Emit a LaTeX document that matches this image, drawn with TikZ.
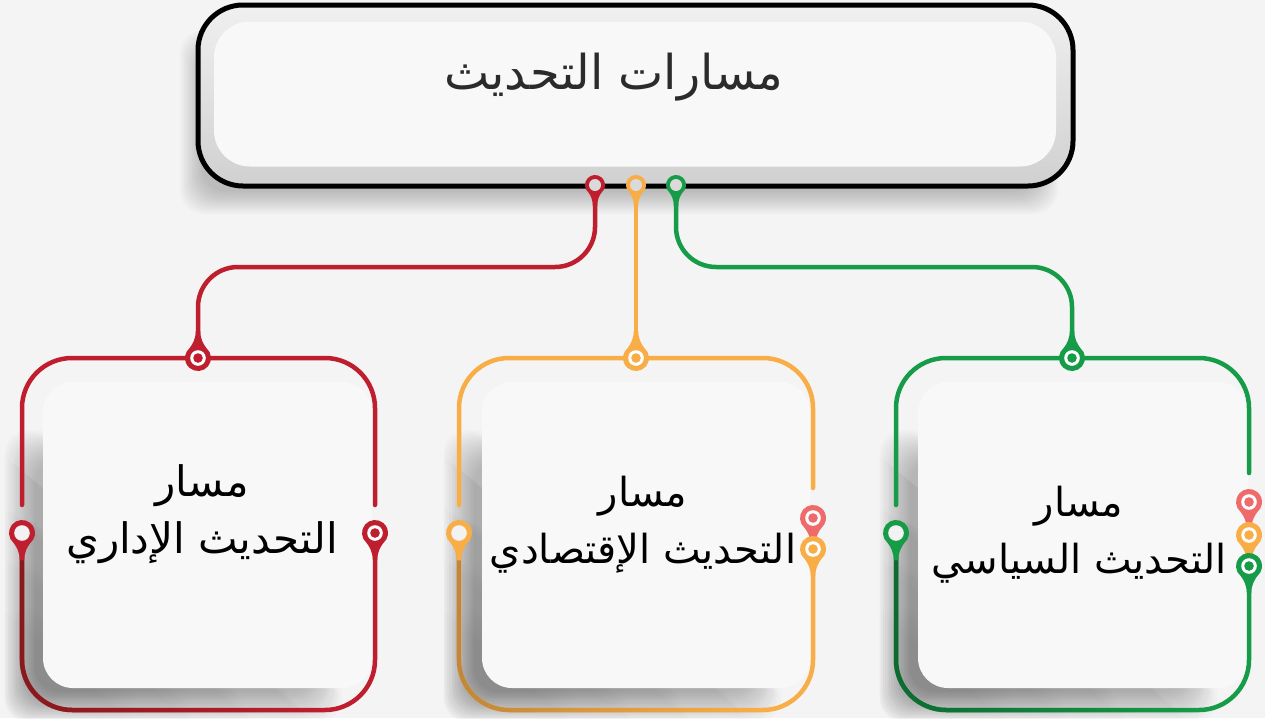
\documentclass[tikz,border=0pt]{standalone}
\usepackage{fontspec}
\usetikzlibrary{fadings}
\TeXXeTstate=1
\newfontfamily\arabicfont[Script=Arabic]{DejaVu Sans}
\definecolor{bg}{HTML}{F4F4F4}
\definecolor{panel}{HTML}{F8F8F8}
\definecolor{cred}{HTML}{BE1E2D}
\definecolor{corange}{HTML}{F9AD47}
\definecolor{cgreen}{HTML}{169B48}
\definecolor{dred}{HTML}{861A1D}
\definecolor{dorange}{HTML}{C2873A}
\definecolor{dgreen}{HTML}{0E6A31}
\definecolor{ccoral}{HTML}{EF6B6B}
\definecolor{txtgray}{HTML}{2B2B2B}
\definecolor{holegray}{HTML}{DADADA}
\definecolor{holebg}{HTML}{F2F2F2}
\definecolor{shtop}{HTML}{F0F0F0}
\definecolor{shbot}{HTML}{D0D0D0}
\tikzset{
  wire/.style={line width=4.5pt, line cap=round},
  frame/.style={line width=4.5pt, line cap=round, rounded corners=50pt},
  panelbox/.style={fill=panel, rounded corners=30pt, minimum width=#1, minimum height=306pt, inner sep=0pt},
  boxtext/.style={align=center, text=black, font=\arabicfont\fontsize{#1}{57pt}\selectfont},
  diagfade/.style={path fading=north, fading angle=-45},
  nofade/.style={},
  pics/pin/.style n args={4}{code={
    \fill[#1] (-2.2,2.1*#2) .. controls (-2.2,1.5*#2) and (-0.42*#2,1.05*#2) .. (130:#2)
       arc[start angle=130, end angle=410, radius=#2]
       .. controls (0.42*#2,1.05*#2) and (2.2,1.5*#2) .. (2.2,2.1*#2) -- cycle;
    \fill[#3] (0,0) circle[radius=0.6*#2];
    \fill[#4] (0,0) circle[radius=0.37*#2];
  }},
}
% soft shadow drawn as stacked translucent rounded rectangles
\newcommand\softshadow[7]{% x1,y1,x2,y2,layers,opacity,style
  \foreach \i in {0,...,#5}{
    \fill[black, fill opacity=#6, rounded corners=24pt, #7] (#1+2*\i,#2+2*\i) rectangle (#3-2*\i,#4-2*\i);
  }}
\begin{document}
\begin{tikzpicture}[x=1pt, y=-1pt]
\useasboundingbox (0,0) rectangle (1265,718);
\fill[bg] (0,0) rectangle (1265,718);

% ---------- top box ----------
\softshadow{180}{30}{1058}{214}{11}{0.02}{nofade}
\node[top color=shtop, bottom color=shbot, rounded corners=45pt, minimum width=875pt, minimum height=181pt, inner sep=0pt]
      (topfill) at (635.5,95.5) {};
\node[fill=panel, rounded corners=36pt, minimum width=842pt, minimum height=145pt, inner sep=0pt]
      (toppanel) at (635,94) {};
\node[draw=black, line width=5pt, rounded corners=45pt, minimum width=875pt, minimum height=181pt, inner sep=0pt]
      (top) at (635.5,95.5) {};
\node[text=txtgray, font=\arabicfont\fontsize{48pt}{56pt}\selectfont] (title) at (614,77) {\beginR مسارات التحديث\endR};

% ---------- bottom panels with shadows ----------
\softshadow{5}{430}{343}{722}{15}{0.032}{diagfade}
\softshadow{444}{430}{782}{722}{15}{0.032}{diagfade}
\softshadow{880}{430}{1218}{722}{15}{0.032}{diagfade}
\node[panelbox=329pt] (panelL) at (207.5,535) {};
\node[panelbox=328pt] (panelM) at (646,535) {};
\node[panelbox=330pt] (panelR) at (1083,535) {};

% ---------- pin positions ----------
\coordinate (tR) at (595,185);
\coordinate (tO) at (636,185);
\coordinate (tG) at (676,185);
\coordinate (kR) at (400,267);
\coordinate (kG) at (870,267);
\coordinate (bR) at (198,358);
\coordinate (bO) at (636,358);
\coordinate (bG) at (1072,358);
\coordinate (lR) at (22,533);
\coordinate (lO) at (459,533);
\coordinate (lG) at (896,533);
\coordinate (rR) at (375,533);
\coordinate (rOc) at (813,518);
\coordinate (rOo) at (813,549);
\coordinate (rGc) at (1249,502);
\coordinate (rGo) at (1249,535);
\coordinate (rGg) at (1249,566);
\coordinate (mL) at (198,710);
\coordinate (mM) at (636,710);
\coordinate (mR) at (1072,710);
\coordinate (fL) at (320,710);
\coordinate (fM) at (757,710);
\coordinate (fR) at (1194,710);

% ---------- connectors ----------
\draw[wire, cred, rounded corners=40pt] (tR) |- (kR) -| (bR);
\draw[wire, corange] (tO) -- (bO);
\draw[wire, cgreen, rounded corners=40pt] (tG) |- (kG) -| (bG);

% ---------- frames ----------
\draw[frame, cred] (22,505) |- (bR) -| (375,505);
\draw[frame, cred] (rR) |- (mL) -| (lR);
\draw[frame, dred, path fading=east] (fL) -| (lR);
\draw[frame, corange] (459,505) |- (bO) -| (813,488);
\draw[frame, corange] (rOo) |- (mM) -| (lO);
\draw[frame, dorange, path fading=east] (fM) -| (lO);
\draw[frame, cgreen] (896,505) |- (bG) -| (1249,473);
\draw[frame, cgreen] (rGg) |- (mR) -| (lG);
\draw[frame, dgreen, path fading=east] (fR) -| (lG);

% ---------- pins ----------
\pic at (tR) {pin={cred}{10}{holegray}{holegray}};
\pic at (tO) {pin={corange}{10}{holegray}{holegray}};
\pic at (tG) {pin={cgreen}{10}{holegray}{holegray}};
\pic[rotate=180] at (bR) {pin={cred}{13}{white}{cred}};
\pic[rotate=180] at (bO) {pin={corange}{13}{white}{corange}};
\pic[rotate=180] at (bG) {pin={cgreen}{13}{white}{cgreen}};
\pic at (lR) {pin={cred}{13}{holebg}{holebg}};
\pic at (lO) {pin={corange}{13}{holebg}{holebg}};
\pic at (lG) {pin={cgreen}{13}{holebg}{holebg}};
\pic at (rR) {pin={cred}{13}{white}{cred}};
\pic at (rOc) {pin={ccoral}{13}{white}{ccoral}};
\pic at (rOo) {pin={corange}{13}{white}{corange}};
\pic at (rGc) {pin={ccoral}{13}{white}{ccoral}};
\pic at (rGo) {pin={corange}{13}{white}{corange}};
\pic at (rGg) {pin={cgreen}{13}{white}{cgreen}};

% ---------- box texts ----------
\node[boxtext=42pt] (textL) at (202,514) {\beginR مسار\endR\\\beginR التحديث الإداري\endR};
\node[boxtext=40pt] (textM) at (643,525) {\beginR مسار\endR\\\beginR التحديث الإقتصادي\endR};
\node[boxtext=40pt] (textR) at (1079,535) {\beginR مسار\endR\\\beginR التحديث السياسي\endR};
\end{tikzpicture}
\end{document}
